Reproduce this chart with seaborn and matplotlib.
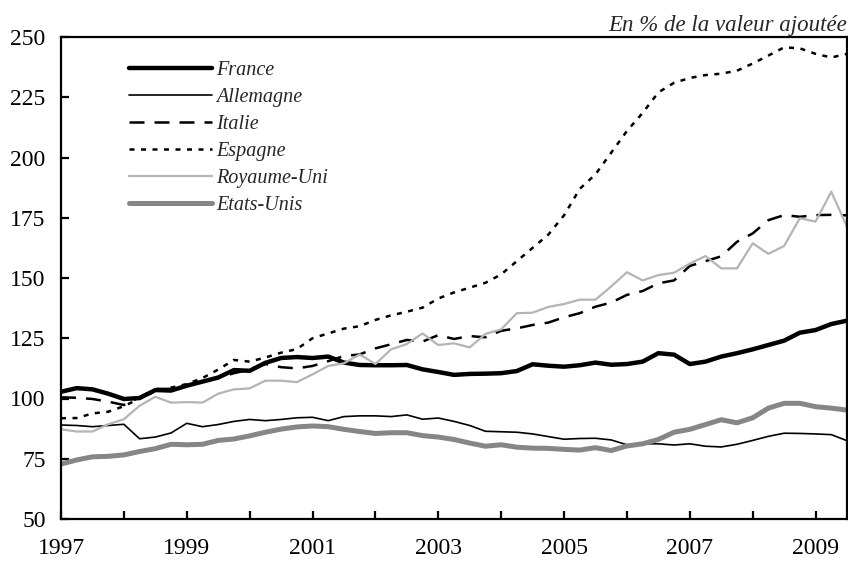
import matplotlib
matplotlib.use("Agg")
from matplotlib import pyplot as plt
import seaborn as sns
import numpy as np
import pandas as pd

# quarterly series, 1997T1 -> 2009T3 (en % de la valeur ajoutée)
years = 1997 + np.arange(51) / 4

france = [102.8, 104.3, 103.8, 102.0, 99.8, 100.2, 103.5, 103.3, 105.3, 107.0,
          108.7, 111.8, 111.5, 114.8, 116.8, 117.2, 116.8, 117.4, 114.9, 113.9,
          113.8, 113.8, 113.9, 112.1, 111.0, 109.8, 110.2, 110.3, 110.5, 111.4,
          114.2, 113.6, 113.2, 113.8, 114.9, 114.0, 114.3, 115.3, 118.8, 118.2,
          114.3, 115.3, 117.4, 118.8, 120.4, 122.2, 124.0, 127.3, 128.4, 130.9,
          132.3]
allemagne = [89.0, 88.8, 88.3, 88.8, 89.3, 83.3, 84.0, 85.7, 89.7, 88.3,
             89.2, 90.5, 91.3, 90.8, 91.3, 92.0, 92.2, 90.8, 92.5, 92.8,
             92.8, 92.5, 93.2, 91.4, 91.9, 90.5, 88.8, 86.4, 86.2, 86.0,
             85.3, 84.2, 83.1, 83.4, 83.5, 82.8, 80.8, 81.2, 81.2, 80.7,
             81.2, 80.2, 79.9, 81.0, 82.6, 84.3, 85.6, 85.5, 85.3, 85.0,
             82.5]
italie = [100.5, 100.3, 99.8, 98.7, 97.3, 100.5, 104.0, 104.0, 105.5, 107.0,
          108.5, 110.5, 112.0, 114.3, 113.0, 112.5, 113.5, 115.5, 117.6, 118.3,
          120.8, 122.5, 124.3, 123.6, 126.3, 124.7, 125.9, 125.4, 128.1, 129.1,
          130.5, 131.5, 133.7, 135.4, 138.1, 139.8, 143.0, 144.6, 147.8, 149.0,
          155.0, 157.0, 159.0, 165.0, 168.5, 174.0, 176.1, 175.4, 176.1, 176.2,
          176.0]
espagne = [91.8, 91.9, 93.8, 94.5, 96.8, 100.0, 103.0, 104.5, 106.0, 108.5,
           112.0, 116.0, 115.3, 117.0, 119.0, 120.5, 125.0, 127.0, 129.0, 130.0,
           132.6, 134.5, 136.0, 137.7, 141.5, 144.0, 146.0, 148.0, 151.5, 157.0,
           162.5, 168.0, 176.0, 187.0, 193.0, 202.0, 211.0, 218.5, 227.0, 231.0,
           233.0, 234.2, 234.8, 236.0, 239.0, 242.3, 245.7, 245.3, 243.0, 241.5,
           243.0]
royaume_uni = [87.2, 86.3, 86.3, 89.3, 91.4, 97.0, 100.7, 98.3, 98.5, 98.3,
               102.0, 103.8, 104.2, 107.4, 107.4, 106.8, 110.0, 113.5, 114.6, 118.3,
               114.3, 120.4, 122.6, 127.0, 122.2, 122.9, 121.2, 126.8, 128.7, 135.4,
               135.6, 138.0, 139.2, 141.0, 141.0, 146.5, 152.4, 149.0, 151.2, 152.2,
               156.0, 159.1, 154.0, 154.0, 164.4, 160.0, 163.3, 174.8, 173.4, 185.8,
               171.3]
etats_unis = [72.8, 74.5, 75.8, 76.0, 76.6, 78.0, 79.2, 81.0, 80.8, 81.0,
              82.6, 83.2, 84.5, 86.0, 87.3, 88.2, 88.6, 88.3, 87.2, 86.3,
              85.5, 85.8, 85.8, 84.6, 84.0, 83.0, 81.5, 80.2, 80.8, 79.8,
              79.4, 79.3, 78.9, 78.6, 79.6, 78.4, 80.3, 81.2, 83.0, 86.0,
              87.2, 89.2, 91.2, 89.9, 92.0, 96.0, 98.0, 98.0, 96.6, 96.0,
              95.2]

series = {
    "France": france,
    "Allemagne": allemagne,
    "Italie": italie,
    "Espagne": espagne,
    "Royaume-Uni": royaume_uni,
    "Etats-Unis": etats_unis,
}
# color, linewidth, dashes
styles = {
    "France": ("black", 3.2, None),
    "Allemagne": ("black", 1.2, None),
    "Italie": ("black", 1.8, (6, 4)),
    "Espagne": ("black", 1.8, (2, 2.6)),
    "Royaume-Uni": ("#b4b4b4", 1.6, None),
    "Etats-Unis": ("#868686", 3.6, None),
}

df = pd.DataFrame(series)
df["annee"] = years

sns.set_style("ticks")
plt.rcParams["font.family"] = ["Liberation Serif", "DejaVu Serif"]

fig = plt.figure(figsize=(8.48, 5.63), dpi=100)
ax = fig.add_axes([61 / 848, 44 / 563, 786 / 848, 482 / 563])

for name in series:
    color, lw, dashes = styles[name]
    sns.lineplot(data=df, x="annee", y=name, ax=ax, color=color,
                 linewidth=lw, label=name)
    if dashes is not None:
        ax.lines[-1].set_dashes(dashes)

ax.set_xlim(1997, 2009.5)
ax.set_ylim(50, 250)
ax.set_yticks(range(50, 251, 25))
ax.set_xticks(range(1997, 2010))
ax.set_xticklabels([str(y) if y % 2 == 1 else "" for y in range(1997, 2010)])
ax.set_xlabel("")
ax.set_ylabel("")

for s in ax.spines.values():
    s.set_linewidth(1.6)
    s.set_color("black")
ax.tick_params(axis="both", direction="in", length=6, width=1.6,
               labelsize=17, colors="black")
ax.tick_params(axis="y", pad=11)
ax.tick_params(axis="x", pad=13.5)

leg = ax.legend(loc="upper left", bbox_to_anchor=(0.0865, 0.95), frameon=False,
                prop={"style": "italic", "size": 14.5}, handlelength=4.13,
                handletextpad=0.2, labelspacing=0.39, borderpad=0,
                borderaxespad=0)

fig.text(0.999, 0.945, "En % de la valeur ajoutée", ha="right", va="baseline",
         fontsize=16.5, style="italic")

fig.savefig("out.png", dpi=100)
